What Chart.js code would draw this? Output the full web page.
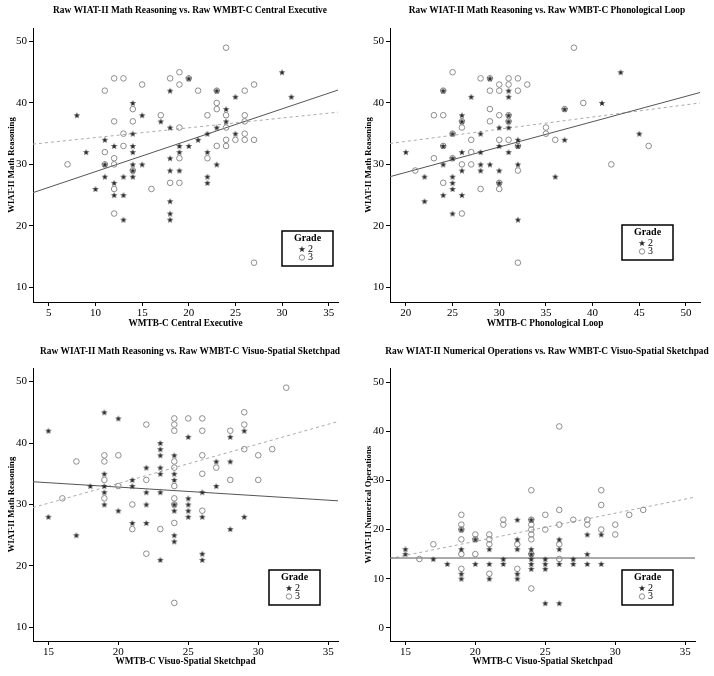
<!DOCTYPE html>
<html>
<head>
<meta charset="utf-8">
<script src="https://cdn.jsdelivr.net/npm/chart.js@4.4.1/dist/chart.umd.min.js"></script>
<style>
  html, body { margin: 0; padding: 0; background: #fff; }
  #wrap { position: relative; width: 714px; height: 676px; }
  .panel { position: absolute; width: 357px; height: 338px; }
</style>
</head>
<body>
<div id="wrap">
  <div class="panel" style="left:0;top:0"><canvas id="c1" width="357" height="338"></canvas></div>
  <div class="panel" style="left:357px;top:0"><canvas id="c2" width="357" height="338"></canvas></div>
  <div class="panel" style="left:0;top:338px"><canvas id="c3" width="357" height="338"></canvas></div>
  <div class="panel" style="left:357px;top:338px"><canvas id="c4" width="357" height="338"></canvas></div>
</div>
<script>
// --- panel 1: central executive (x) vs math reasoning (y) ---
const ceGrade2 = [[8,38],[9,32],[10,26],[11,34],[11,30],[11,28],[12,33],[12,27],[12,25],[13,28],[13,25],[13,21],
  [14,40],[14,35],[14,33],[14,32],[14,30],[14,29],[14,28],[15,38],[15,30],[17,37],[18,42],[18,36],[18,31],[18,29],
  [18,24],[18,22],[18,21],[19,33],[19,32],[19,29],[20,33],[20,44],[21,34],[22,35],[22,32],[22,28],[22,27],[23,42],
  [23,36],[23,30],[24,39],[24,37],[25,41],[25,35],[30,45],[31,41]];
const ceGrade3 = [[7,30],[11,42],[12,44],[13,44],[15,43],[18,44],[19,45],[19,43],[20,44],[21,42],[24,49],[23,42],
  [23,40],[23,39],[22,38],[24,38],[24,36],[26,38],[26,37],[26,42],[27,43],[25,34],[26,34],[27,34],[26,35],[24,34],
  [24,33],[23,33],[17,38],[19,36],[12,37],[13,35],[14,39],[14,37],[13,33],[11,32],[12,31],[12,30],[11,30],[14,29],
  [12,26],[12,22],[16,26],[18,27],[19,27],[19,31],[22,31],[27,14]];
const ceFit2 = [[3.3,25.4],[36,42.1]];
const ceFit3 = [[3.3,33.3],[36,38.5]];

// --- panel 2: phonological loop vs math reasoning ---
const plGrade2 = [[20,32],[22,28],[22,24],[24,42],[24,33],[24,30],[24,25],[25,35],[25,31],[25,28],[25,27],[25,26],
  [25,22],[26,38],[26,37],[26,32],[26,29],[26,25],[27,41],[28,35],[28,32],[28,30],[28,29],[29,44],[29,30],[30,36],
  [30,33],[30,29],[30,27],[31,42],[31,41],[31,38],[31,37],[31,36],[31,32],[32,34],[32,33],[32,30],[32,21],[36,28],
  [37,39],[37,34],[41,40],[43,45],[45,35]];
const plGrade3 = [[21,29],[23,31],[23,38],[24,38],[24,42],[24,33],[24,27],[25,45],[25,31],[25,35],[26,37],[26,36],
  [26,30],[26,22],[27,34],[27,32],[27,30],[28,44],[28,26],[29,44],[29,42],[29,39],[29,37],[30,43],[30,42],[30,38],
  [30,34],[30,27],[30,26],[31,44],[31,43],[31,38],[31,37],[31,34],[32,44],[32,42],[32,33],[32,29],[32,14],[33,43],
  [35,36],[35,35],[36,34],[37,39],[38,49],[39,40],[42,30],[46,33]];
const plFit2 = [[18.3,28.0],[51.5,41.7]];
const plFit3 = [[18.3,33.4],[51.5,40.0]];

// --- panel 3: visuo-spatial sketchpad vs math reasoning ---
const vsGrade2 = [[15,42],[15,28],[17,25],[18,33],[19,45],[19,35],[19,33],[19,32],[19,30],[20,44],[20,29],[21,34],
  [21,33],[21,27],[22,36],[22,32],[22,30],[22,27],[23,40],[23,39],[23,38],[23,36],[23,35],[23,32],[23,21],[24,38],
  [24,35],[24,34],[24,30],[24,29],[24,25],[24,24],[25,41],[25,31],[25,30],[25,29],[25,28],[26,32],[26,28],[26,22],
  [26,21],[27,37],[27,33],[28,41],[28,37],[28,26],[29,42],[29,28]];
const vsGrade3 = [[16,31],[17,37],[19,38],[19,37],[19,34],[19,31],[20,38],[20,33],[21,30],[21,26],[22,43],[22,34],
  [22,22],[23,26],[24,44],[24,43],[24,42],[24,37],[24,36],[24,33],[24,31],[24,30],[24,27],[24,14],[25,44],[26,44],
  [26,42],[26,38],[26,35],[26,29],[27,36],[28,42],[28,34],[29,45],[29,43],[29,39],[30,38],[30,34],[31,39],[32,49]];
const vsFit2 = [[13.9,33.7],[35.7,30.6]];
const vsFit3 = [[13.9,29.5],[35.7,43.5]];

// --- panel 4: visuo-spatial sketchpad vs numerical operations ---
const noGrade2 = [[15,16],[15,15],[17,14],[18,13],[19,20],[19,16],[19,11],[19,10],[20,18],[20,13],[21,16],[21,13],
  [21,10],[22,14],[22,13],[23,22],[23,18],[23,16],[23,11],[23,10],[24,22],[24,16],[24,15],[24,14],[24,13],[24,12],
  [25,14],[25,13],[25,12],[25,5],[26,18],[26,16],[26,13],[26,5],[27,14],[27,13],[28,19],[28,15],[28,13],[29,19],[29,13]];
const noGrade3 = [[16,14],[17,17],[19,23],[19,21],[19,20],[19,18],[19,15],[19,12],[20,19],[20,18],[20,15],[21,19],
  [21,18],[21,17],[21,11],[22,22],[22,21],[23,17],[23,12],[24,28],[24,22],[24,21],[24,20],[24,19],[24,18],[24,15],
  [24,8],[25,23],[25,20],[26,41],[26,24],[26,21],[26,17],[26,14],[27,22],[28,22],[28,21],[29,28],[29,25],[29,20],
  [30,21],[30,19],[31,23],[32,24]];
const noFit2 = [[13.9,14.2],[35.7,14.2]];
const noFit3 = [[13.9,14.1],[35.7,26.6]];

// --- axis ticks ---
const ceTicks = [5, 10, 15, 20, 25, 30, 35];
const plTicks = [20, 25, 30, 35, 40, 45, 50];
const vsTicks = [15, 20, 25, 30, 35];
const mrTicks = [10, 20, 30, 40, 50];
const noTicks = [0, 10, 20, 30, 40, 50];

const SERIF = '"Liberation Serif", "Times New Roman", serif';

// 5-point star marker for grade 2
function makeStar() {
  const c = document.createElement('canvas');
  c.width = 8; c.height = 8;
  const g = c.getContext('2d');
  g.fillStyle = '#2a2a2a';
  g.beginPath();
  for (let i = 0; i < 10; i++) {
    const r = i % 2 === 0 ? 3.4 : 1.4;
    const a = -Math.PI / 2 + i * Math.PI / 5;
    g.lineTo(4 + r * Math.cos(a), 4.3 + r * Math.sin(a));
  }
  g.closePath();
  g.fill();
  return c;
}
const starImg = makeStar();

const toXY = arr => arr.map(p => ({ x: p[0], y: p[1] }));

// title + "Grade" box, drawn on the canvas
const panelDecor = {
  id: 'panelDecor',
  afterDraw(chart, args, opts) {
    const ctx = chart.ctx;
    ctx.save();
    ctx.fillStyle = '#000';
    ctx.textAlign = 'center';
    ctx.textBaseline = 'middle';
    ctx.font = 'bold 9.4px ' + SERIF;
    ctx.fillText(opts.title, 190, opts.titleY);

    const b = opts.box;
    ctx.lineWidth = 1.5;
    ctx.strokeStyle = '#000';
    ctx.strokeRect(b[0], b[1], 51, 35);
    ctx.font = 'bold 10px ' + SERIF;
    ctx.fillText('Grade', b[0] + 25.5, b[1] + 7.5);
    ctx.font = '10px ' + SERIF;
    ctx.textAlign = 'left';
    ctx.drawImage(starImg, b[0] + 16, b[1] + 14);
    ctx.fillText('2', b[0] + 26, b[1] + 18);
    ctx.beginPath();
    ctx.lineWidth = 1;
    ctx.strokeStyle = '#8c8c8c';
    ctx.arc(b[0] + 20, b[1] + 26.5, 2.7, 0, Math.PI * 2);
    ctx.stroke();
    ctx.fillText('3', b[0] + 26, b[1] + 26.5);
    ctx.restore();
  }
};

function makePanel(id, cfg) {
  const axisTitle = (text, size, pad) => ({
    display: true, text, color: '#000', padding: pad,
    font: { family: SERIF, size, weight: 'bold' }
  });
  new Chart(document.getElementById(id), {
    type: 'scatter',
    data: {
      datasets: [
        { label: '2', data: toXY(cfg.g2), pointStyle: starImg, pointRadius: 4 },
        { label: '3', data: toXY(cfg.g3), pointStyle: 'circle', pointRadius: 2.8,
          borderColor: '#8c8c8c', backgroundColor: 'rgba(0,0,0,0)', borderWidth: 1 },
        { label: 'fit2', data: toXY(cfg.fit2), showLine: true, pointRadius: 0,
          borderColor: '#555', borderWidth: 1 },
        { label: 'fit3', data: toXY(cfg.fit3), showLine: true, pointRadius: 0,
          borderColor: '#aaa', borderWidth: 1, borderDash: [3, 3] }
      ]
    },
    options: {
      responsive: false,
      animation: false,
      devicePixelRatio: 1,
      layout: { padding: { top: cfg.top, right: cfg.right, left: 0, bottom: 0 } },
      plugins: {
        legend: { display: false },
        tooltip: { enabled: false },
        panelDecor: { title: cfg.title, titleY: cfg.titleY, box: cfg.box }
      },
      scales: {
        x: {
          type: 'linear', min: cfg.xRange[0], max: cfg.xRange[1],
          afterBuildTicks: s => { s.ticks = cfg.xTicks.map(v => ({ value: v })); },
          afterFit: s => { s.height = 338 - cfg.bottom; },
          grid: { drawOnChartArea: false, drawTicks: true, tickLength: 4, color: '#000' },
          border: { display: true, color: '#000', width: 1 },
          ticks: { color: '#000', padding: 1, font: { family: SERIF, size: 11 }, maxRotation: 0 },
          title: axisTitle(cfg.xTitle, 9.3, { top: 0, bottom: 9 })
        },
        y: {
          type: 'linear', min: cfg.yRange[0], max: cfg.yRange[1],
          afterBuildTicks: s => { s.ticks = cfg.yTicks.map(v => ({ value: v })); },
          afterFit: s => { s.width = 33; },
          grid: { drawOnChartArea: false, drawTicks: true, tickLength: 4, color: '#000' },
          border: { display: true, color: '#000', width: 1 },
          ticks: { color: '#000', padding: 2, font: { family: SERIF, size: 11 } },
          title: axisTitle(cfg.yTitle, 8.7, { top: 6.5, bottom: 0 })
        }
      }
    },
    plugins: [panelDecor]
  });
}

makePanel('c1', {
  g2: ceGrade2, g3: ceGrade3, fit2: ceFit2, fit3: ceFit3,
  xRange: [3.3, 36], yRange: [7.6, 52.2], xTicks: ceTicks, yTicks: mrTicks,
  top: 28, bottom: 302, right: 19, titleY: 11, box: [282, 231],
  title: 'Raw WIAT-II Math Reasoning vs. Raw WMBT-C Central Executive',
  xTitle: 'WMTB-C Central Executive', yTitle: 'WIAT-II Math Reasoning'
});
makePanel('c2', {
  g2: plGrade2, g3: plGrade3, fit2: plFit2, fit3: plFit3,
  xRange: [18.3, 51.5], yRange: [7.6, 52.2], xTicks: plTicks, yTicks: mrTicks,
  top: 28, bottom: 302, right: 14, titleY: 11, box: [265, 225],
  title: 'Raw WIAT-II Math Reasoning vs. Raw WMBT-C Phonological Loop',
  xTitle: 'WMTB-C Phonological Loop', yTitle: 'WIAT-II Math Reasoning'
});
makePanel('c3', {
  g2: vsGrade2, g3: vsGrade3, fit2: vsFit2, fit3: vsFit3,
  xRange: [13.9, 35.7], yRange: [7.8, 52.2], xTicks: vsTicks, yTicks: mrTicks,
  top: 30, bottom: 303, right: 19, titleY: 14, box: [269, 232],
  title: 'Raw WIAT-II Math Reasoning vs. Raw WMBT-C Visuo-Spatial Sketchpad',
  xTitle: 'WMTB-C Visuo-Spatial Sketchpad', yTitle: 'WIAT-II Math Reasoning'
});
makePanel('c4', {
  g2: noGrade2, g3: noGrade3, fit2: noFit2, fit3: noFit3,
  xRange: [13.9, 35.7], yRange: [-2.7, 52.9], xTicks: vsTicks, yTicks: noTicks,
  top: 30, bottom: 303, right: 19, titleY: 14, box: [265, 232],
  title: 'Raw WIAT-II Numerical Operations vs. Raw WMBT-C Visuo-Spatial Sketchpad',
  xTitle: 'WMTB-C Visuo-Spatial Sketchpad', yTitle: 'WIAT-II Numerical Operations'
});
</script>
</body>
</html>
